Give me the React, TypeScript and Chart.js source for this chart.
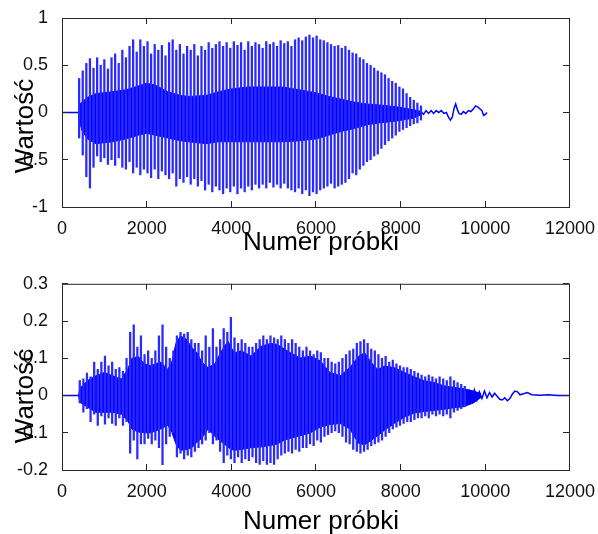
import React, { useEffect, useRef } from "react";
import { Chart, registerables } from "chart.js";

Chart.register(...registerables);

// ---------- axes / labels ----------
const X_TICKS = [0, 2000, 4000, 6000, 8000, 10000, 12000];
const TOP_Y_TICKS = [-1, -0.5, 0, 0.5, 1];
const BOTTOM_Y_TICKS = [-0.2, -0.1, 0, 0.1, 0.2, 0.3];
const X_TITLE = "Numer próbki";
const Y_TITLE = "Wartość";

// ---------- top signal ----------
const TOP_LEAD_X = [0, 400];
const TOP_LEAD_Y = [0, 0];

const TOP_SPIKE_X = [
  405, 490, 575, 660, 745, 830, 915, 1000, 1085, 1170,
  1255, 1340, 1425, 1510, 1595, 1680, 1765, 1850, 1935, 2020,
  2105, 2190, 2275, 2360, 2445, 2530, 2615, 2700, 2785, 2870,
  2955, 3040, 3125, 3210, 3295, 3380, 3465, 3550, 3635, 3720,
  3805, 3890, 3975, 4060, 4145, 4230, 4315, 4400, 4485, 4570,
  4655, 4740, 4825, 4910, 4995, 5080, 5165, 5250, 5335, 5420,
  5505, 5590, 5675, 5760, 5845, 5930, 6015, 6100, 6185, 6270,
  6355, 6440, 6525, 6610, 6695, 6780, 6865, 6950, 7035, 7120,
  7205, 7290, 7375, 7460, 7545, 7630, 7715, 7800, 7885, 7970,
  8055, 8140, 8225, 8310, 8395, 8480,
];
const TOP_SPIKE_HI = [
  0.36, 0.44, 0.52, 0.57, 0.47, 0.58, 0.5, 0.56, 0.46, 0.58,
  0.62, 0.52, 0.66, 0.58, 0.7, 0.77, 0.64, 0.77, 0.7, 0.75,
  0.62, 0.72, 0.66, 0.71, 0.6, 0.74, 0.77, 0.66, 0.72, 0.62,
  0.7, 0.66, 0.72, 0.6, 0.7, 0.66, 0.74, 0.68, 0.72, 0.75,
  0.7, 0.74, 0.68, 0.75, 0.71, 0.74, 0.66, 0.75, 0.7, 0.74,
  0.72, 0.68, 0.75, 0.72, 0.74, 0.7, 0.76, 0.73, 0.75, 0.7,
  0.77, 0.79, 0.76, 0.8, 0.82, 0.79, 0.81, 0.77, 0.76, 0.74,
  0.72, 0.7, 0.71, 0.68, 0.7, 0.66, 0.63, 0.62, 0.58, 0.56,
  0.52, 0.5, 0.47, 0.44, 0.42, 0.4, 0.36, 0.33, 0.31, 0.27,
  0.25, 0.2, 0.16, 0.13, 0.1, 0.07,
];
const TOP_SPIKE_LO = [
  -0.27, -0.45, -0.68, -0.8, -0.58, -0.46, -0.52, -0.48, -0.55, -0.5,
  -0.56, -0.48, -0.58, -0.6, -0.52, -0.64, -0.58, -0.66, -0.6, -0.64,
  -0.69, -0.6, -0.7, -0.62, -0.66, -0.7, -0.64, -0.78, -0.7, -0.74,
  -0.68, -0.76, -0.7, -0.78, -0.72, -0.82, -0.76, -0.84, -0.78, -0.82,
  -0.86, -0.8, -0.84, -0.78, -0.86, -0.8, -0.84, -0.78, -0.82, -0.76,
  -0.8, -0.76, -0.8, -0.74, -0.79, -0.76, -0.8, -0.75, -0.8, -0.82,
  -0.84, -0.8, -0.86, -0.82, -0.88, -0.84, -0.86, -0.82, -0.8, -0.78,
  -0.75, -0.8, -0.78, -0.76, -0.74, -0.7, -0.64, -0.66, -0.6, -0.56,
  -0.52, -0.5, -0.46, -0.44, -0.38, -0.34, -0.3, -0.27, -0.24, -0.2,
  -0.18, -0.16, -0.14, -0.12, -0.11, -0.08,
];

const TOP_CORE_X = [
  390, 400, 470, 600, 800, 1000, 1200, 1500, 1800, 2000,
  2200, 2500, 2800, 3000, 3400, 3700, 4000, 4400, 4800, 5200,
  5600, 6000, 6300, 6600, 6900, 7200, 7500, 7900, 8300, 8500,
];
const TOP_CORE_HI = [
  0, 0.08, 0.11, 0.16, 0.2, 0.21, 0.22, 0.24, 0.28, 0.31,
  0.29, 0.22, 0.18, 0.17, 0.18, 0.22, 0.25, 0.27, 0.27, 0.27,
  0.24, 0.21, 0.17, 0.14, 0.11, 0.09, 0.08, 0.06, 0.03, 0.01,
];
const TOP_CORE_LO = [
  0, -0.06, -0.19, -0.28, -0.33, -0.32, -0.31, -0.28, -0.24, -0.22,
  -0.24, -0.27, -0.3, -0.31, -0.33, -0.31, -0.31, -0.31, -0.31, -0.31,
  -0.3, -0.28, -0.24, -0.2, -0.17, -0.13, -0.11, -0.09, -0.06, -0.02,
];

const TOP_TAIL_X = [
  8480, 8540, 8600, 8660, 8720, 8780, 8840, 8900, 8960, 9020,
  9080, 9130, 9175, 9220, 9260, 9300, 9340, 9380, 9430, 9480,
  9540, 9600, 9660, 9720, 9770, 9820, 9870, 9920, 9960, 10000, 10040,
];
const TOP_TAIL_Y = [
  0.01, -0.02, 0.02, -0.01, 0.02, -0.01, 0.02, 0, 0.02, -0.01,
  0, -0.05, -0.08, -0.05, 0.04, 0.09, 0.03, -0.01, -0.02, 0.01,
  -0.01, 0.02, 0.01, 0.04, 0.07, 0.06, 0.04, 0.02, -0.03, -0.02, 0,
];

// ---------- bottom signal ----------
const BOT_LEAD_X = [0, 400];
const BOT_LEAD_Y = [0, 0];

const BOT_SPIKE_X = [
  420, 505, 590, 675, 760, 845, 930, 1015, 1100, 1185,
  1270, 1355, 1440, 1525, 1610, 1695, 1780, 1865, 1950, 2035,
  2120, 2205, 2290, 2375, 2460, 2545, 2630, 2715, 2800, 2885,
  2970, 3055, 3140, 3225, 3310, 3395, 3480, 3565, 3650, 3735,
  3820, 3905, 3990, 4075, 4160, 4245, 4330, 4415, 4500, 4585,
  4670, 4755, 4840, 4925, 5010, 5095, 5180, 5265, 5350, 5435,
  5520, 5605, 5690, 5775, 5860, 5945, 6030, 6115, 6200, 6285,
  6370, 6455, 6540, 6625, 6710, 6795, 6880, 6965, 7050, 7135,
  7220, 7305, 7390, 7475, 7560, 7645, 7730, 7815, 7900, 7985,
  8070, 8155, 8240, 8325, 8410, 8495, 8580, 8665, 8750, 8835,
  8920, 9005, 9090, 9175, 9260, 9345, 9430, 9515,
];
const BOT_SPIKE_HI = [
  0.04, 0.045, 0.06, 0.05, 0.09, 0.07, 0.09, 0.106, 0.08, 0.09,
  0.07, 0.075, 0.065, 0.1, 0.17, 0.19, 0.13, 0.16, 0.11, 0.12,
  0.1, 0.12, 0.16, 0.19, 0.13, 0.1, 0.12, 0.16, 0.17, 0.165,
  0.17, 0.15, 0.14, 0.14, 0.12, 0.16, 0.13, 0.18, 0.13, 0.15,
  0.18, 0.17, 0.21, 0.155, 0.14, 0.15, 0.14, 0.13, 0.13, 0.14,
  0.15, 0.16, 0.15, 0.16, 0.155, 0.15, 0.16, 0.15, 0.14, 0.15,
  0.14, 0.13, 0.12, 0.13, 0.12, 0.11, 0.12, 0.115, 0.1, 0.1,
  0.09, 0.085, 0.09, 0.1, 0.11, 0.12, 0.125, 0.14, 0.145, 0.15,
  0.14, 0.125, 0.12, 0.11, 0.1, 0.105, 0.09, 0.095, 0.085, 0.08,
  0.075, 0.075, 0.07, 0.065, 0.06, 0.055, 0.05, 0.055, 0.05, 0.045,
  0.05, 0.045, 0.04, 0.05, 0.04, 0.035, 0.03, 0.025,
];
const BOT_SPIKE_LO = [
  -0.02, -0.045, -0.035, -0.07, -0.05, -0.08, -0.055, -0.077, -0.06, -0.075,
  -0.08, -0.06, -0.08, -0.07, -0.155, -0.12, -0.17, -0.13, -0.13, -0.115,
  -0.13, -0.12, -0.14, -0.186, -0.13, -0.11, -0.1, -0.165, -0.155, -0.17,
  -0.16, -0.165, -0.15, -0.14, -0.13, -0.12, -0.1, -0.13, -0.12, -0.15,
  -0.18, -0.16, -0.17, -0.18, -0.165, -0.18, -0.17, -0.175, -0.165, -0.18,
  -0.185, -0.175, -0.185, -0.18, -0.185, -0.17, -0.16, -0.155, -0.15, -0.155,
  -0.145, -0.15, -0.14, -0.14, -0.13, -0.135, -0.12, -0.125, -0.11, -0.105,
  -0.1, -0.095, -0.1, -0.11, -0.125, -0.13, -0.145, -0.15, -0.155, -0.15,
  -0.145, -0.135, -0.13, -0.125, -0.12, -0.11, -0.1, -0.09, -0.085, -0.08,
  -0.075, -0.07, -0.07, -0.065, -0.06, -0.06, -0.055, -0.06, -0.05, -0.055,
  -0.05, -0.055, -0.05, -0.06, -0.045, -0.04, -0.035, -0.03,
];

const BOT_CORE_X = [
  390, 420, 600, 800, 1000, 1200, 1400, 1550, 1650, 1800,
  1950, 2100, 2330, 2500, 2600, 2690, 2800, 2950, 3070, 3190,
  3300, 3450, 3610, 3770, 3920, 4000, 4080, 4230, 4470, 4700,
  4930, 5090, 5250, 5400, 5630, 5870, 6100, 6330, 6570, 6800,
  7000, 7150, 7310, 7460, 7620, 7850, 8090, 8320, 8550, 8790,
  9020, 9250, 9490, 9720, 9900,
];
const BOT_CORE_HI = [
  0, 0.02, 0.04, 0.053, 0.062, 0.053, 0.044, 0.07, 0.1, 0.105,
  0.085, 0.08, 0.09, 0.07, 0.093, 0.14, 0.16, 0.15, 0.128, 0.115,
  0.09, 0.075, 0.085, 0.12, 0.146, 0.128, 0.115, 0.12, 0.106, 0.132,
  0.14, 0.137, 0.125, 0.115, 0.101, 0.106, 0.093, 0.062, 0.053, 0.075,
  0.105, 0.115, 0.088, 0.07, 0.079, 0.075, 0.062, 0.05, 0.04, 0.035,
  0.026, 0.022, 0.018, 0.012, 0.005,
];
const BOT_CORE_LO = [
  0, -0.018, -0.031, -0.045, -0.045, -0.045, -0.05, -0.067, -0.09, -0.098,
  -0.1, -0.1, -0.09, -0.08, -0.1, -0.13, -0.147, -0.145, -0.14, -0.125,
  -0.115, -0.09, -0.11, -0.125, -0.138, -0.145, -0.147, -0.145, -0.14, -0.138,
  -0.134, -0.13, -0.12, -0.115, -0.108, -0.1, -0.085, -0.078, -0.075, -0.09,
  -0.128, -0.132, -0.12, -0.108, -0.093, -0.075, -0.058, -0.047, -0.043, -0.04,
  -0.037, -0.033, -0.03, -0.02, -0.005,
];

const BOT_TAIL_X = [
  9500, 9560, 9620, 9680, 9740, 9800, 9860, 9920, 9980, 10040,
  10100, 10160, 10220, 10280, 10340, 10400, 10460, 10520, 10580, 10640,
  10700, 10760, 10820, 10880, 10940, 11000, 11060, 11100, 11300, 11500,
  11700, 12000,
];
const BOT_TAIL_Y = [
  0.02, -0.015, 0.012, -0.01, 0.015, -0.012, 0.01, -0.008, 0.012, -0.006,
  0.008, -0.004, 0.006, -0.002, -0.01, -0.012, -0.006, -0.014, -0.008, 0.004,
  0.012, 0.01, 0.002, 0.004, 0.006, 0.008, 0.004, 0.002, 0.001, 0.002,
  0, 0,
];

// ---------- styling ----------
const BLUE = "#0000ff";
const SPIKE_BLUE = "#2a2aff";
const FONT = "'Liberation Sans', Arial, Helvetica, sans-serif";
const TICK_FONT = "'Liberation Sans Narrow', 'Arial Narrow', 'Liberation Sans', Arial, sans-serif";
const W = 598;
const H = 267;

const pts = (xs: number[], ys: number[]) => xs.map((x, i) => ({ x, y: ys[i] }));

const framePlugin = {
  id: "matlabFrame",
  afterDatasetsDraw(chart: any, _args: any, opts: any) {
    const { ctx, chartArea: a, scales } = chart;
    ctx.save();
    ctx.strokeStyle = "#262626";
    ctx.lineWidth = 1;
    ctx.strokeRect(a.left + 0.5, a.top + 0.5, a.right - a.left - 1, a.bottom - a.top);
    const tl = 6;
    ctx.beginPath();
    for (const v of X_TICKS) {
      const px = Math.floor(scales.x.getPixelForValue(v)) + 0.5;
      ctx.moveTo(px, a.bottom);
      ctx.lineTo(px, a.bottom - tl);
      ctx.moveTo(px, a.top);
      ctx.lineTo(px, a.top + tl);
    }
    for (const v of opts.yTicks) {
      const py = Math.floor(scales.y.getPixelForValue(v)) + 0.5;
      ctx.moveTo(a.left, py);
      ctx.lineTo(a.left + tl, py);
      ctx.moveTo(a.right - 1, py);
      ctx.lineTo(a.right - 1 - tl, py);
    }
    ctx.stroke();
    ctx.restore();
  },
  afterDraw(chart: any, _args: any, opts: any) {
    const { ctx } = chart;
    ctx.save();
    ctx.fillStyle = "#000";
    ctx.font = `26px ${FONT}`;
    ctx.textAlign = "center";
    ctx.textBaseline = "alphabetic";
    ctx.fillText(opts.xTitle, opts.xTitleX, opts.xTitleY);
    ctx.translate(opts.yTitleX, opts.yTitleY);
    ctx.rotate(-Math.PI / 2);
    ctx.fillText(opts.yTitle, 0, 0);
    ctx.restore();
  },
};

type PanelProps = {
  spikeX: number[];
  spikeHi: number[];
  spikeLo: number[];
  coreX: number[];
  coreHi: number[];
  coreLo: number[];
  leadX: number[];
  leadY: number[];
  tailX: number[];
  tailY: number[];
  yTicks: number[];
  yMin: number;
  yMax: number;
  padTop: number;
  xAxisHeight: number;
  xTitleY: number;
  yTitleY: number;
};

function Panel(p: PanelProps) {
  const ref = useRef<HTMLCanvasElement | null>(null);
  useEffect(() => {
    if (!ref.current) return;
    const tickFont = { family: TICK_FONT, size: 18 };
    const lineDs = (data: any[], extra: any = {}) => ({
      type: "line",
      data,
      borderColor: BLUE,
      backgroundColor: BLUE,
      borderWidth: 1.5,
      pointRadius: 0,
      tension: 0,
      fill: false,
      ...extra,
    });
    const chart = new Chart(ref.current, {
      type: "line",
      data: {
        datasets: [
          {
            type: "bar",
            data: p.spikeX.map((x, i) => ({ x, y: [p.spikeLo[i], p.spikeHi[i]] })),
            backgroundColor: SPIKE_BLUE,
            borderWidth: 0,
            barThickness: 1.6,
          } as any,
          lineDs(pts(p.coreX, p.coreHi), { fill: "+1", borderWidth: 1 }),
          lineDs(pts(p.coreX, p.coreLo), { borderWidth: 1 }),
          lineDs(pts(p.leadX, p.leadY)),
          lineDs(pts(p.tailX, p.tailY)),
        ],
      },
      options: {
        animation: false,
        responsive: false,
        maintainAspectRatio: false,
        events: [],
        layout: { padding: { top: p.padTop, right: 22, bottom: 0, left: 0 } },
        plugins: {
          legend: { display: false },
          tooltip: { enabled: false },
          matlabFrame: {
            yTicks: p.yTicks,
            xTitle: X_TITLE,
            yTitle: Y_TITLE,
            xTitleX: 321,
            xTitleY: p.xTitleY,
            yTitleX: 33,
            yTitleY: p.yTitleY,
          },
        } as any,
        scales: {
          x: {
            type: "linear",
            min: 0,
            max: 12000,
            offset: false,
            grid: { display: false, offset: false },
            border: { display: false },
            afterBuildTicks: (s: any) => {
              s.ticks = X_TICKS.map((v) => ({ value: v }));
            },
            afterFit: (s: any) => {
              s.height = p.xAxisHeight;
            },
            ticks: {
              autoSkip: false,
              maxRotation: 0,
              padding: 3,
              color: "#111",
              font: tickFont,
              callback: (v: any) => String(v),
            },
          },
          y: {
            type: "linear",
            min: p.yMin,
            max: p.yMax,
            grid: { display: false },
            border: { display: false },
            afterBuildTicks: (s: any) => {
              s.ticks = p.yTicks.map((v) => ({ value: v }));
            },
            afterFit: (s: any) => {
              s.width = 62;
            },
            ticks: {
              autoSkip: false,
              padding: 6,
              color: "#111",
              font: tickFont,
              callback: (v: any) => String(v),
            },
          },
        },
      } as any,
      plugins: [framePlugin as any],
    });
    return () => chart.destroy();
  }, []);
  return (
    <canvas
      ref={ref}
      width={W}
      height={H}
      style={{ display: "block", width: W, height: H }}
    />
  );
}

export default function App() {
  return (
    <div
      style={{
        position: "fixed",
        left: 0,
        top: 0,
        width: W,
        height: 534,
        background: "#fff",
      }}
    >
      <Panel
        spikeX={TOP_SPIKE_X}
        spikeHi={TOP_SPIKE_HI}
        spikeLo={TOP_SPIKE_LO}
        coreX={TOP_CORE_X}
        coreHi={TOP_CORE_HI}
        coreLo={TOP_CORE_LO}
        leadX={TOP_LEAD_X}
        leadY={TOP_LEAD_Y}
        tailX={TOP_TAIL_X}
        tailY={TOP_TAIL_Y}
        yTicks={TOP_Y_TICKS}
        yMin={-1}
        yMax={1}
        padTop={18}
        xAxisHeight={60}
        xTitleY={250}
        yTitleY={126}
      />
      <Panel
        spikeX={BOT_SPIKE_X}
        spikeHi={BOT_SPIKE_HI}
        spikeLo={BOT_SPIKE_LO}
        coreX={BOT_CORE_X}
        coreHi={BOT_CORE_HI}
        coreLo={BOT_CORE_LO}
        leadX={BOT_LEAD_X}
        leadY={BOT_LEAD_Y}
        tailX={BOT_TAIL_X}
        tailY={BOT_TAIL_Y}
        yTicks={BOTTOM_Y_TICKS}
        yMin={-0.2}
        yMax={0.3}
        padTop={15}
        xAxisHeight={64}
        xTitleY={262}
        yTitleY={129}
      />
    </div>
  );
}
